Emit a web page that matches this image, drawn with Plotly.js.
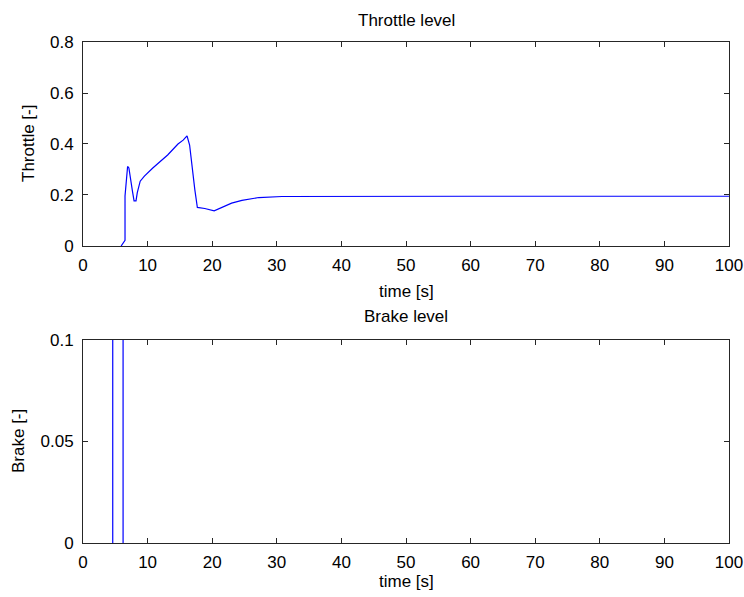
<!DOCTYPE html>
<html><head><meta charset="utf-8">
<script src="https://cdn.plot.ly/plotly-3.0.1.min.js"></script>
<style>body{margin:0;background:#fff}#c{width:744px;height:597px}</style>
</head><body><div id="c"></div>
<script>
// Throttle level (visible part of the curve)
const throttleTime = [5.9, 6.5, 6.5, 6.9, 7.1, 7.3, 7.65, 7.9, 8.2, 8.4, 8.85, 9.5, 10.0, 10.8, 13.1, 14.7, 15.5, 16.1, 16.5, 16.8, 17.3, 17.7, 18.85, 20.3, 21.5, 23.0, 24.6, 27.2, 30.8, 40, 60, 80, 100];
const throttleVal  = [0, 0.022, 0.196, 0.312, 0.306, 0.267, 0.215, 0.177, 0.177, 0.209, 0.254, 0.274, 0.286, 0.306, 0.357, 0.400, 0.415, 0.432, 0.396, 0.325, 0.222, 0.151, 0.147, 0.138, 0.151, 0.168, 0.179, 0.190, 0.194, 0.195, 0.195, 0.195, 0.195];
// Brake level (pulse between ~4.6 s and ~6.2 s, exceeding the 0.1 axis limit)
const brakeTime = [4.6, 4.6, 6.2, 6.2];
const brakeVal  = [0, 1, 1, 0];
const xTicks = [0,10,20,30,40,50,60,70,80,90,100];
const throttleTicks = [0,0.2,0.4,0.6,0.8];
const throttleTickText = ['0','0.2','0.4','0.6','0.8'];
const brakeTicks = [0,0.05,0.1];
const brakeTickText = ['0','0.05','0.1'];

const FONT = {family:'"Liberation Sans", Arial, sans-serif', size:17, color:'#000'};
const axBase = {showgrid:false, zeroline:false, showline:true, linecolor:'#262626', linewidth:1,
  mirror:'ticks', ticks:'inside', ticklen:5, tickcolor:'#262626', tickfont:FONT, fixedrange:true};

const traces = [
  {x:throttleTime, y:throttleVal, type:'scatter', mode:'lines', line:{color:'#0000ff', width:1.2}, xaxis:'x', yaxis:'y', hoverinfo:'skip'},
  {x:brakeTime, y:brakeVal, type:'scatter', mode:'lines', line:{color:'#0000ff', width:1.2}, xaxis:'x2', yaxis:'y2', hoverinfo:'skip'}
];

const H = 597;
const py = v => (H - v) / H;
const layout = {
  width:744, height:597, margin:{l:0,r:0,t:0,b:0}, showlegend:false,
  paper_bgcolor:'#fff', plot_bgcolor:'#fff', font:FONT,
  xaxis:Object.assign({}, axBase, {domain:[0.1116,0.9798], range:[0,100], tickvals:xTicks, ticktext:xTicks.map(String), anchor:'y', ticklabelstandoff:4}),
  yaxis:Object.assign({}, axBase, {domain:[0.588,0.9296], range:[0,0.8], tickvals:throttleTicks, ticktext:throttleTickText, anchor:'x', ticklabelstandoff:5}),
  xaxis2:Object.assign({}, axBase, {domain:[0.1116,0.9798], range:[0,100], tickvals:xTicks, ticktext:xTicks.map(String), anchor:'y2', ticklabelstandoff:4}),
  yaxis2:Object.assign({}, axBase, {domain:[0.0905,0.4305], range:[0,0.1], tickvals:brakeTicks, ticktext:brakeTickText, anchor:'x2', ticklabelstandoff:5}),
  annotations:[
    {text:'Throttle level', xref:'paper', yref:'paper', x:0.5457, y:py(20), showarrow:false, font:FONT, xanchor:'center', yanchor:'middle'},
    {text:'Brake level', xref:'paper', yref:'paper', x:0.5457, y:py(316), showarrow:false, font:FONT, xanchor:'center', yanchor:'middle'},
    {text:'time [s]', xref:'paper', yref:'paper', x:0.5457, y:py(291), showarrow:false, font:FONT, xanchor:'center', yanchor:'middle'},
    {text:'time [s]', xref:'paper', yref:'paper', x:0.5457, y:py(581), showarrow:false, font:FONT, xanchor:'center', yanchor:'middle'},
    {text:'Throttle [-]', xref:'paper', yref:'paper', x:28/744, y:py(144), showarrow:false, font:FONT, xanchor:'center', yanchor:'middle', textangle:-90},
    {text:'Brake [-]', xref:'paper', yref:'paper', x:18/744, y:py(441), showarrow:false, font:FONT, xanchor:'center', yanchor:'middle', textangle:-90}
  ]
};
Plotly.newPlot('c', traces, layout, {staticPlot:true});
</script></body></html>
